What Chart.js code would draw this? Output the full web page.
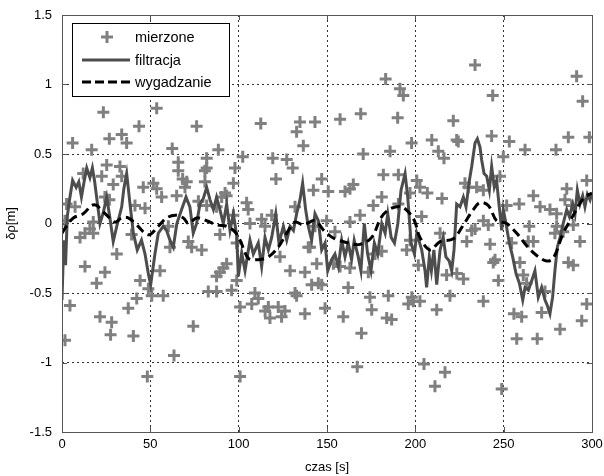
<!DOCTYPE html>
<html>
<head>
<meta charset="utf-8">
<script src="https://cdn.jsdelivr.net/npm/chart.js@4/dist/chart.umd.min.js"></script>
<style>
  html, body { margin:0; padding:0; background:#fff; }
  #wrap { width:604px; height:476px; }
</style>
</head>
<body>
<div id="wrap"><canvas id="c" width="604" height="476"></canvas></div>
<script>
// ---- data ----
const xTicks = [0, 50, 100, 150, 200, 250, 300];
const yTicks = [-1.5, -1, -0.5, 0, 0.5, 1, 1.5];

// mierzone (measured) - czas [s]
const measT = [23.4,53.6,43.6,6.0,26.8,33.8,36.6,16.8,62.4,76.2,25.3,32.8,22.5,12,29,33.8,46,51.7,53.6,65.8,
  65.8,68.3,69.6,56.4,64.9,2.6,41.3,47,88.5,81.9,97.9,80.9,70.6,80.9,97,93.2,90.4,7.4,24.3,26.8,
  77.2,81.9,87.5,97,1.7,17.7,15.8,13,10.2,17.7,60.2,71.5,73.4,79.1,31,13,24.3,19.6,55.5,44.2,
  48.9,50.8,57.3,42.3,37.5,4.5,21.5,28.1,27.5,40.4,93.2,91.3,89.4,87.5,82.8,87.5,96,98.9,1.7,63.4,
  48.3,74.3,61.1,39.4,112.5,134.7,132.8,143.2,136.6,81.9,102.3,119.3,127.2,130.6,121.1,147,142.3,150.7,104.5,105.4,
  92.3,131.9,113,118.7,170.5,185.7,181.9,190.4,164.9,160.2,181,176.2,197,190.4,106.4,114.9,149.8,143.2,163,168.7,
  154.5,139.4,181,177.2,195.1,197,129.1,137.5,141.3,147,132.8,162,174.3,184.7,198,109.2,111.1,107.4,116.8,115,
  122.4,126.2,124.3,117.7,137.5,148.9,159.2,100.8,183.8,186.6,196,100.8,89.4,98.9,123.4,131.9,140.4,144.2,145.1,183.2,
  191.3,193.2,157.4,169.1,190,221.5,197.9,209.3,213,216.2,223.4,163,200.8,202.6,206.8,215.1,203.6,214,153.6,157.4,
  163,173.4,175.3,169.5,198.9,202.6,201.7,212.1,219.6,223.5,167.1,204.9,216.8,211.1,233.8,291.3,243.8,294.7,224.3,243.2,
  253.2,262.1,279.6,286.6,298.5,249.8,247.9,228.1,230,234.7,238.5,297,285.7,251.7,258.8,266.8,270.6,276.2,280,284.7,
  288.5,238.5,231.9,241.3,229.1,242.3,217.7,227.2,245.1,247,259.2,261.1,263,254.5,263.9,266.8,279,289.4,293.2,286.6,
  289.4,297,238.5,255.8,260.2,294.2,264.5,233.8,244.1,271.5,257.4,269,281.9,248.9,283.7,280,273.4];
// mierzone - δρ [m]
const measV = [0.80,0.83,0.70,0.58,0.61,0.64,0.58,0.53,0.54,0.70,0.42,0.41,0.34,0.36,0.28,0.34,0.26,0.29,0.25,0.44,
  0.38,0.32,0.26,0.19,0.20,0.14,0.13,0.11,0.53,0.47,0.40,0.38,0.30,0.30,0.29,0.20,0.19,0.12,0.19,0.17,
  0.16,0.13,0.12,0.06,0.02,0.01,-0.04,-0.07,-0.10,-0.07,-0.02,-0.13,-0.17,-0.19,-0.22,-0.31,-0.35,-0.43,-0.34,-0.41,
  -0.47,-0.52,-0.52,-0.54,-0.61,-0.59,-0.67,-0.71,-0.80,-0.81,-0.29,-0.32,-0.35,-0.38,-0.49,-0.49,-0.48,-0.41,-0.84,-0.95,
  -1.10,-0.74,-0.17,-0.08,0.72,0.73,0.66,0.73,0.56,0.40,0.48,0.47,0.46,0.40,0.32,0.32,0.24,0.23,0.15,0.10,
  0.22,0.12,0.03,0.06,0.50,0.52,0.35,0.35,0.28,0.23,0.19,0.13,0.22,0.14,0.00,-0.02,0.02,-0.02,0.01,0.06,
  -0.06,-0.17,-0.20,-0.22,-0.19,-0.12,-0.34,-0.35,-0.44,-0.44,-0.52,-0.46,-0.53,-0.52,-0.53,-0.50,-0.54,-0.58,-0.60,-0.63,
  -0.60,-0.63,-0.67,-0.68,-0.65,-0.61,-0.67,-0.60,-0.68,-0.69,-0.58,-1.10,-0.08,-0.14,-0.24,-0.50,-0.17,-0.29,-0.43,1.04,
  0.97,0.92,0.75,0.79,0.76,0.74,0.58,0.60,0.52,0.47,0.60,0.25,0.31,0.26,0.22,0.18,0.05,-0.07,-0.29,-0.31,
  -0.32,-0.35,-0.62,-0.79,-0.56,-0.56,-0.30,-0.62,-0.52,-0.36,-1.03,-1.01,-1.07,-1.17,1.14,1.06,0.92,0.88,0.59,0.63,
  0.59,0.53,0.53,0.62,0.62,0.48,0.34,0.29,0.26,0.26,0.24,0.31,0.25,0.13,0.14,0.20,0.12,0.10,0.07,0.17,
  0.13,0.02,-0.05,-0.01,-0.13,-0.15,-0.37,-0.40,-0.26,-0.41,-0.28,-0.37,-0.43,-0.14,-0.13,-0.13,-0.07,-0.01,-0.13,-0.28,
  -0.30,-0.58,-0.56,-0.65,-0.67,-0.70,-0.02,-0.04,-0.28,-0.64,-0.83,-0.83,-0.76,-1.19,-0.06,-0.02,-0.49];

// filtracja
const filtT = [0,1,2,3,4,6,8,9.5,11,12.5,14,15.8,17.2,18.5,19.6,21.5,23.4,25.3,27,29,31,33.8,35,36.6,38.5,40.4,42.6,45,47,49,
  50.2,52.6,54.5,57.3,59.2,61.1,63,65,67.7,70.2,72.4,74.3,76.2,78.1,80,81.9,83.8,85.7,87.5,89.4,91.3,93.2,95.1,97,98.9,99.8,101.7,103.6,106.4,108.3,
  111.1,113,114.9,116.8,118.7,121,122.8,125.3,127.2,129.1,131,132.8,134.7,136.2,137.9,139.4,141.3,143.2,145.1,147,148.9,150.4,152.6,154.5,156.4,158.3,160.2,162,163.9,165.4,
  167.7,169.2,171.1,173,174.9,176.8,178.7,181,182.9,184.4,186.3,188.2,190.1,191.9,194.2,195.7,197.6,199.5,200.8,203.6,205.5,206.4,207.9,209.1,210.5,212.1,214,215.8,217.3,219.2,
  220.6,221.9,223.4,225.3,227.2,228.7,230.6,231.9,233.8,235.1,236.6,237.5,238.9,240.4,241.9,243.2,244.7,246,247.5,248.9,249.8,251.3,253.2,255.1,257,258.9,260.8,262.1,264,265.9,
  267.7,269.6,271.5,273.4,274.7,276.2,277.7,279,280.4,281.9,283.7,285.7,287.2,289.1,290.4,291.7,293.2,294.7,296,297.4,298.9,300];
const filtV = [-0.55,-0.12,-0.30,0.05,0.15,0.31,0.26,0.30,0.19,0.30,0.40,0.33,0.40,0.30,0.19,0.00,0.08,0.19,0.05,-0.13,-0.02,0.12,0.25,0.36,0.14,-0.07,-0.19,-0.12,-0.22,-0.37,
  -0.44,-0.22,-0.07,-0.02,-0.05,-0.12,-0.17,0.00,0.10,0.19,0.12,-0.07,0.00,0.14,0.18,0.26,0.17,0.10,0.19,0.10,0.00,0.14,-0.05,0.07,-0.09,-0.38,-0.21,-0.34,-0.12,-0.22,
  -0.14,-0.31,-0.10,-0.19,-0.10,0.07,-0.14,-0.02,-0.12,-0.02,-0.05,0.07,0.17,0.29,0.10,-0.02,-0.12,0.07,0.02,-0.19,-0.14,-0.34,-0.26,-0.22,-0.31,-0.12,-0.24,-0.14,-0.26,-0.12,
  -0.24,-0.34,0.00,-0.22,-0.34,-0.14,-0.22,0.00,-0.07,0.07,-0.10,-0.14,0.00,0.24,0.36,0.19,-0.14,-0.22,-0.07,-0.19,-0.34,-0.46,-0.24,-0.34,-0.19,-0.44,-0.19,-0.10,-0.24,-0.27,
  -0.34,-0.19,0.14,0.12,0.19,0.12,0.31,0.41,0.58,0.61,0.55,0.46,0.36,0.34,0.24,0.41,0.26,0.31,0.12,-0.05,0.10,0.00,-0.14,-0.24,-0.36,-0.43,-0.55,-0.46,-0.48,-0.41,
  -0.34,-0.53,-0.46,-0.55,-0.59,-0.65,-0.53,-0.34,-0.17,-0.10,0.00,0.10,0.05,0.14,0.07,0.24,0.14,0.20,0.12,0.21,0.17,0.22];

// wygadzanie
const smoothT = [0,3,6.4,12,16.8,19.6,22,25.3,30,33.8,37.5,42.3,47,49.8,54.5,59.2,64,68.7,71.5,76.2,81.9,87.5,93.2,97.9,100.8,105.5,111,116.8,122.4,127.2,
  131.9,136.6,143.2,148.9,154.5,162,168.7,175.3,181,186.6,192.3,197,199.8,202.6,208.3,214,221.5,227.2,232.8,236.6,241.3,246,251.7,257.4,263,268.7,274.3,278.1,283.7,289.4,
  295.1,300];
const smoothV = [-0.07,-0.01,0.04,0.07,0.13,0.13,0.10,0.06,0.01,0.04,0.04,-0.01,-0.07,-0.08,-0.02,0.04,0.06,0.04,0.00,0.04,0.02,-0.01,-0.02,-0.06,-0.12,-0.25,-0.26,-0.24,-0.17,-0.07,
  0.01,-0.01,0.02,-0.06,-0.11,-0.14,-0.15,-0.10,0.05,0.11,0.12,0.07,0.01,-0.10,-0.19,-0.13,-0.11,-0.01,0.10,0.15,0.13,0.02,0.00,-0.07,-0.16,-0.23,-0.27,-0.25,-0.07,0.06,
  0.18,0.22];

const seriesNames = ["mierzone", "filtracja", "wygadzanie"];
const FONT = "'Liberation Sans', Arial, sans-serif";

const pts = (xs, ys) => xs.map((x, i) => ({x: x, y: ys[i]}));

// legend box + inward ticks + box frame, matlab style
const matlabBits = {
  id: "matlabBits",
  afterDraw(chart){
    const ctx = chart.ctx, a = chart.chartArea;
    const xs = chart.scales.x, ys = chart.scales.y;
    ctx.save();
    ctx.strokeStyle = "#555"; ctx.lineWidth = 1; ctx.setLineDash([]);
    ctx.beginPath();
    xTicks.forEach(v => {
      const px = Math.round(xs.getPixelForValue(v)) + 0.5;
      ctx.moveTo(px, a.bottom); ctx.lineTo(px, a.bottom - 5);
      ctx.moveTo(px, a.top); ctx.lineTo(px, a.top + 5);
    });
    yTicks.forEach(v => {
      const py = Math.round(ys.getPixelForValue(v)) + 0.5;
      ctx.moveTo(a.left, py); ctx.lineTo(a.left + 5, py);
      ctx.moveTo(a.right, py); ctx.lineTo(a.right - 5, py);
    });
    ctx.stroke();
    ctx.strokeRect(Math.round(a.left) + 0.5, Math.round(a.top) + 0.5, Math.round(a.right - a.left), Math.round(a.bottom - a.top));

    // legend
    const lx = 72, ly = 23, lw = 157, lh = 73;
    ctx.fillStyle = "#fff";
    ctx.fillRect(lx, ly, lw, lh);
    ctx.strokeStyle = "#000";
    ctx.strokeRect(lx + 0.5, ly + 0.5, lw, lh);
    const rows = [37, 60, 82];
    ctx.strokeStyle = "#808080"; ctx.lineWidth = 3;
    ctx.beginPath();
    ctx.moveTo(101, rows[0]); ctx.lineTo(113, rows[0]);
    ctx.moveTo(107, rows[0] - 6); ctx.lineTo(107, rows[0] + 6);
    ctx.stroke();
    ctx.strokeStyle = "#4d4d4d";
    ctx.beginPath(); ctx.moveTo(82, rows[1]); ctx.lineTo(130, rows[1]); ctx.stroke();
    ctx.strokeStyle = "#000"; ctx.setLineDash([9, 4]);
    ctx.beginPath(); ctx.moveTo(82, rows[2]); ctx.lineTo(130, rows[2]); ctx.stroke();
    ctx.setLineDash([]);
    ctx.fillStyle = "#000";
    ctx.font = "14.5px " + FONT;
    ctx.textBaseline = "middle"; ctx.textAlign = "left";
    seriesNames.forEach((n, i) => ctx.fillText(n, 135, rows[i] + 1));
    ctx.restore();
  }
};

new Chart(document.getElementById("c"), {
  type: "scatter",
  data: {
    datasets: [
      {
        label: seriesNames[2], type: "line", data: pts(smoothT, smoothV), order: 1,
        borderColor: "#000", borderWidth: 3, borderDash: [9, 5], pointRadius: 0,
        tension: 0.35, fill: false
      },
      {
        label: seriesNames[1], type: "line", data: pts(filtT, filtV), order: 2,
        borderColor: "#4d4d4d", borderWidth: 3, pointRadius: 0, tension: 0, fill: false
      },
      {
        label: seriesNames[0], data: pts(measT, measV), order: 3,
        pointStyle: "cross", pointRadius: 6, borderWidth: 3,
        borderColor: "#808080", backgroundColor: "#808080"
      }
    ]
  },
  options: {
    responsive: false,
    animation: false,
    layout: { padding: { top: 15, right: 0, left: 0, bottom: 0 } },
    plugins: { legend: { display: false }, tooltip: { enabled: false } },
    scales: {
      x: {
        type: "linear", min: 0, max: 300,
        afterBuildTicks: s => { s.ticks = xTicks.map(v => ({value: v})); },
        afterFit: s => { s.height = 44; s.paddingRight = 12; s.paddingLeft = 0; },
        grid: { color: "#333", lineWidth: 1, drawTicks: false },
        border: { display: false, dash: [2, 3] },
        ticks: { color: "#000", font: { family: FONT, size: 13 }, padding: 5, maxRotation: 0 },
        title: { display: true, text: "czas [s]", color: "#000", font: { family: FONT, size: 13 }, padding: { top: 0, bottom: 1 } }
      },
      y: {
        type: "linear", min: -1.5, max: 1.5,
        afterBuildTicks: s => { s.ticks = yTicks.map(v => ({value: v})); },
        afterFit: s => { s.width = 62; s.paddingTop = 15; s.paddingBottom = 0; },
        grid: { color: "#333", lineWidth: 1, drawTicks: false },
        border: { display: false, dash: [2, 3] },
        ticks: { color: "#000", font: { family: FONT, size: 13 }, padding: 10, callback: v => String(v) },
        title: { display: true, text: "δρ[m]", color: "#000", font: { family: FONT, size: 13 }, padding: { top: 4, bottom: 0 } }
      }
    }
  },
  plugins: [matlabBits]
});
</script>
</body>
</html>
